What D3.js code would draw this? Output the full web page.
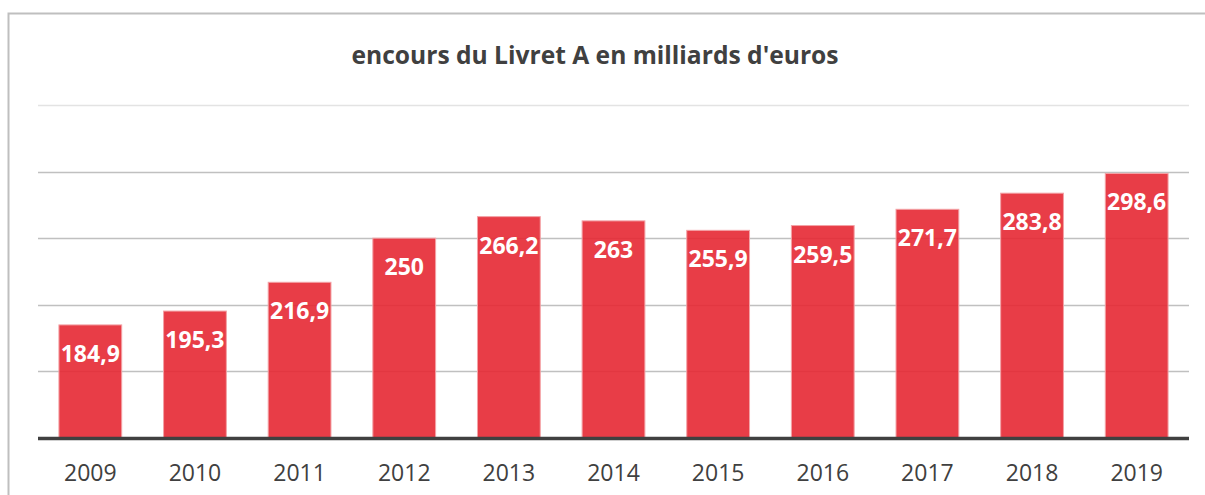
<!DOCTYPE html>
<html>
<head>
<meta charset="utf-8">
<script src="https://cdn.jsdelivr.net/npm/d3@7"></script>
<style>
  body { margin: 0; background: #fff; }
  svg { display: block; }
</style>
</head>
<body>
<div id="chart"></div>
<script>
// données
const years = ["2009", "2010", "2011", "2012", "2013", "2014", "2015", "2016", "2017", "2018", "2019"];
const encours = [184.9, 195.3, 216.9, 250, 266.2, 263, 255.9, 259.5, 271.7, 283.8, 298.6];
const gridTicks = [150, 200, 250, 300, 350];
const chartTitle = "encours du Livret A en milliards d'euros";

const width = 1205, height = 495;
const plotLeft = 38, plotRight = 1189, plotTop = 105, plotBottom = 438;

const svg = d3.select("#chart").append("svg")
    .attr("width", width)
    .attr("height", height)
    .style("font-family", "'Open Sans', sans-serif");

// cadre
svg.append("path")
    .attr("d", `M8.5,${height} V13.5 H${width}`)
    .attr("fill", "none")
    .attr("stroke", "#bfbfbf")
    .attr("stroke-width", 2);

// échelles
const x = d3.scaleBand().domain(years).range([plotLeft, plotRight])
    .paddingInner(0.4).paddingOuter(0.2);
const y = d3.scaleLinear().domain([100, 350]).range([plotBottom, plotTop]);

// grille
svg.append("g").selectAll("line")
    .data(gridTicks)
    .enter().append("line")
    .attr("x1", plotLeft).attr("x2", plotRight)
    .attr("y1", d => Math.round(y(d)) + 0.5)
    .attr("y2", d => Math.round(y(d)) + 0.5)
    .attr("stroke", d => d === 350 ? "#e3e3e3" : "#c0c0c0")
    .attr("stroke-width", 1.5);

// titre
svg.append("text")
    .attr("x", 595).attr("y", 64)
    .attr("text-anchor", "middle")
    .attr("font-size", 24.6)
    .attr("font-weight", "bold")
    .attr("fill", "#404040")
    .text(chartTitle);

// barres
const data = years.map((yr, i) => ({ year: yr, value: encours[i] }));
const g = svg.selectAll("g.bar")
    .data(data)
    .enter().append("g")
    .attr("class", "bar");
g.append("rect")
    .attr("x", d => x(d.year))
    .attr("y", d => y(d.value))
    .attr("width", x.bandwidth())
    .attr("height", d => y(100) - y(d.value))
    .attr("fill", "#e62833")
    .attr("fill-opacity", 0.9)
    .attr("stroke", "#f3a2a6")
    .attr("stroke-width", 1);
g.append("text")
    .attr("x", d => x(d.year) + x.bandwidth() / 2)
    .attr("y", d => y(d.value) + 37)
    .attr("text-anchor", "middle")
    .attr("font-size", 23)
    .attr("font-weight", "bold")
    .attr("fill", "#fff")
    .text(d => String(d.value).replace(".", ","));

// axe des abscisses
const xAxis = svg.append("g")
    .attr("transform", `translate(0,${plotBottom})`)
    .call(d3.axisBottom(x).tickSize(0).tickPadding(0));
xAxis.select(".domain")
    .attr("d", `M${plotLeft},0.5H${plotRight}`)
    .attr("stroke", "#404040")
    .attr("stroke-width", 3.5);
xAxis.selectAll("text")
    .attr("dy", 0)
    .attr("y", 43)
    .attr("font-family", "'Open Sans', sans-serif")
    .attr("font-size", 23)
    .attr("fill", "#404040");
</script>
</body>
</html>
